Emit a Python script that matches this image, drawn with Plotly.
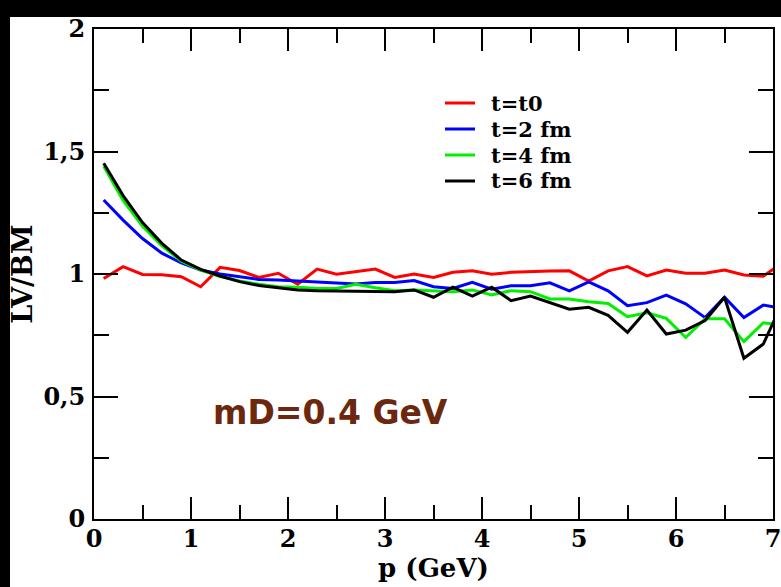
import plotly.graph_objects as go

p = [0.1, 0.3, 0.5, 0.7, 0.9, 1.1, 1.3, 1.5, 1.7, 1.9, 2.1, 2.3, 2.5, 2.7, 2.9, 3.1, 3.3, 3.5,
     3.7, 3.9, 4.1, 4.3, 4.5, 4.7, 4.9, 5.1, 5.3, 5.5, 5.7, 5.9, 6.1, 6.3, 6.5, 6.7, 6.9, 7.1]

t0 = [0.982, 1.030, 0.998, 0.997, 0.989, 0.948, 1.027, 1.014, 0.986, 1.003, 0.958, 1.020,
      0.999, 1.009, 1.020, 0.986, 1.000, 0.986, 1.007, 1.013, 0.999, 1.007, 1.011, 1.012,
      1.013, 0.971, 1.013, 1.030, 0.992, 1.016, 1.003, 1.003, 1.016, 0.996, 0.991, 1.047]

t2 = [1.302, 1.220, 1.145, 1.085, 1.045, 1.016, 1.000, 0.988, 0.978, 0.976, 0.971, 0.966,
      0.962, 0.959, 0.965, 0.965, 0.973, 0.948, 0.941, 0.966, 0.938, 0.952, 0.952, 0.964,
      0.931, 0.968, 0.931, 0.871, 0.883, 0.914, 0.878, 0.822, 0.905, 0.822, 0.873, 0.860]

t4 = [1.440, 1.300, 1.195, 1.115, 1.052, 1.016, 0.990, 0.972, 0.958, 0.948, 0.946, 0.941,
      0.941, 0.958, 0.944, 0.932, 0.935, 0.932, 0.928, 0.935, 0.914, 0.932, 0.928, 0.898,
      0.898, 0.887, 0.880, 0.826, 0.842, 0.819, 0.741, 0.817, 0.817, 0.724, 0.801, 0.790]

t6 = [1.452, 1.320, 1.210, 1.125, 1.057, 1.019, 0.992, 0.969, 0.953, 0.943, 0.935, 0.932,
      0.931, 0.931, 0.931, 0.928, 0.935, 0.905, 0.946, 0.910, 0.946, 0.891, 0.910, 0.882,
      0.856, 0.864, 0.831, 0.762, 0.853, 0.755, 0.771, 0.810, 0.905, 0.656, 0.714, 0.886]

names = ["t=t0", "t=2 fm", "t=4 fm", "t=6 fm"]
colors = ["#ff0000", "#0000ff", "#00f000", "#000000"]
values = [t0, t2, t4, t6]

SERIF = "DejaVu Serif"

fig = go.Figure()
for name, ys, col in zip(names, values, colors):
    fig.add_trace(go.Scatter(x=p, y=ys, mode="lines", name=name,
                             line=dict(color=col, width=3), showlegend=False))

# helpers to place decorations in paper coordinates from pixel positions
PW, PH = 679.0, 490.0
def px_x(px):
    return (px - 94) / PW
def px_y(py):
    return (519 - py) / PH

shapes = [
    # black frame strips (top and left) around the white page
    dict(type="rect", xref="paper", yref="paper", layer="below",
         x0=px_x(-5), x1=px_x(790), y0=px_y(17), y1=px_y(-5),
         fillcolor="black", line=dict(width=0)),
    dict(type="rect", xref="paper", yref="paper", layer="below",
         x0=px_x(-5), x1=px_x(10), y0=px_y(600), y1=px_y(-5),
         fillcolor="black", line=dict(width=0)),
]
annotations = []
row_y = [103, 129, 155, 181]
for name, col, ry in zip(names, colors, row_y):
    shapes.append(dict(type="line", xref="paper", yref="paper",
                       x0=px_x(445), x1=px_x(475), y0=px_y(ry), y1=px_y(ry),
                       line=dict(color=col, width=3)))
    annotations.append(dict(text=name, xref="paper", yref="paper",
                            x=px_x(489), y=px_y(ry), xanchor="left", yanchor="middle",
                            showarrow=False,
                            font=dict(family=SERIF, size=21, color="black", weight="bold")))

annotations.append(dict(text="mD=0.4 GeV", x=2.44, y=0.435, xref="x", yref="y",
                        showarrow=False, xanchor="center", yanchor="middle",
                        font=dict(family="DejaVu Sans", size=33, color="#6b280e", weight="bold")))

axis_common = dict(
    showline=True, linecolor="black", linewidth=2, mirror="ticks",
    ticks="inside", tickcolor="black", tickwidth=2,
    showgrid=False, zeroline=False, automargin=False,
    ticklabeloverflow="allow",
    tickfont=dict(family=SERIF, size=24, color="black", weight="bold"),
)

fig.update_layout(
    width=781, height=587,
    margin=dict(l=94, r=8, t=29, b=68),
    paper_bgcolor="white",
    plot_bgcolor="white",
    separators=",.",
    showlegend=False,
    xaxis=dict(range=[0, 7], dtick=1, ticklen=22,
               minor=dict(ticks="inside", dtick=0.5, ticklen=14, tickwidth=2, tickcolor="black"),
               title=dict(text="p (GeV)", font=dict(family=SERIF, size=26, color="black", weight="bold"),
                          standoff=3),
               ticklabelstandoff=-3,
               **axis_common),
    yaxis=dict(range=[0, 2], dtick=0.5, ticklen=24,
               minor=dict(ticks="inside", dtick=0.25, ticklen=15, tickwidth=2, tickcolor="black"),
               title=dict(text="LV/BM", font=dict(family=SERIF, size=27, color="black", weight="bold"),
                          standoff=3),
               ticklabelstandoff=2,
               **axis_common),
    shapes=shapes,
    annotations=annotations,
)

fig.write_html("out.html")
